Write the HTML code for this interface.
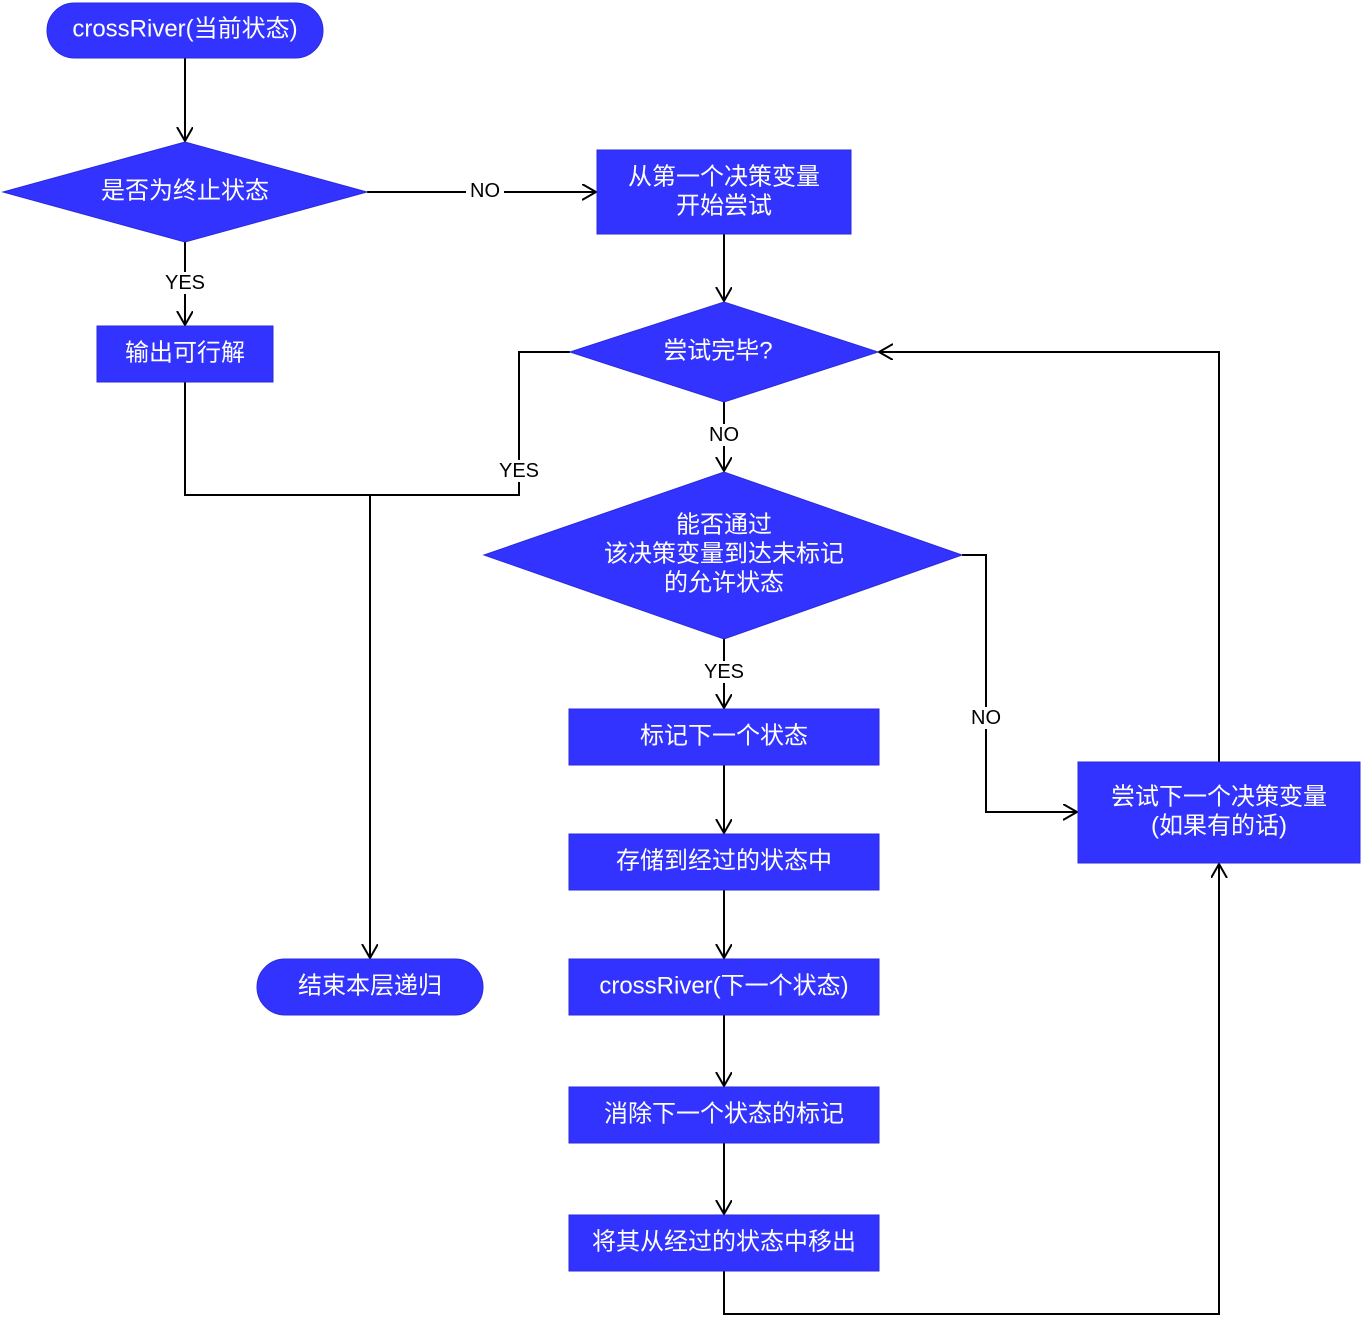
<!DOCTYPE html>
<html><head><meta charset="utf-8"><style>
html,body{margin:0;padding:0;background:#fff;}
svg{display:block;}
text{font-family:"Liberation Sans","Noto Sans CJK SC",sans-serif;}
.t{fill:#fff;font-size:24px;text-anchor:middle;dominant-baseline:central;}
.l{fill:#000;font-size:20px;text-anchor:middle;dominant-baseline:central;}
.s{fill:#3333ff;stroke:#2a2ad8;stroke-width:1;}
.c{fill:none;stroke:#000;stroke-width:2;}
</style></head><body>
<svg width="1362" height="1317" viewBox="0 0 1362 1317">
<defs>
<marker id="a" markerWidth="20" markerHeight="20" refX="14" refY="8" orient="auto" markerUnits="userSpaceOnUse">
<path d="M0,0 L14,8 L0,16" fill="none" stroke="#000" stroke-width="2"/>
</marker>
</defs>
<path class="c" d="M185,58 V141" marker-end="url(#a)"/>
<path class="c" d="M367,192 H596" marker-end="url(#a)"/>
<path class="c" d="M724,234 V301" marker-end="url(#a)"/>
<path class="c" d="M185,242 V325" marker-end="url(#a)"/>
<path class="c" d="M185,382 V495 H519 V352 H570"/>
<path class="c" d="M370,495 V958" marker-end="url(#a)"/>
<path class="c" d="M724,402 V471" marker-end="url(#a)"/>
<path class="c" d="M724,639 V708" marker-end="url(#a)"/>
<path class="c" d="M724,765 V833" marker-end="url(#a)"/>
<path class="c" d="M724,890 V958" marker-end="url(#a)"/>
<path class="c" d="M724,1015 V1086" marker-end="url(#a)"/>
<path class="c" d="M724,1143 V1214" marker-end="url(#a)"/>
<path class="c" d="M962,555 H986 V812 H1077" marker-end="url(#a)"/>
<path class="c" d="M1219,762 V352 H879" marker-end="url(#a)"/>
<path class="c" d="M724,1271 V1314 H1219 V864" marker-end="url(#a)"/>
<rect x="466" y="180" width="38" height="22" fill="#fff"/><text class="l" x="485" y="191">NO</text>
<rect x="166" y="272" width="38" height="22" fill="#fff"/><text class="l" x="185" y="283">YES</text>
<rect x="500" y="460" width="38" height="22" fill="#fff"/><text class="l" x="519" y="471">YES</text>
<rect x="706" y="424" width="36" height="22" fill="#fff"/><text class="l" x="724" y="435">NO</text>
<rect x="705" y="661" width="38" height="22" fill="#fff"/><text class="l" x="724" y="672">YES</text>
<rect x="968" y="707" width="36" height="22" fill="#fff"/><text class="l" x="986" y="718">NO</text>
<rect class="s" x="47" y="3" width="276" height="55" rx="27.5"/>
<text class="t" x="185" y="29">crossRiver(当前状态)</text>
<polygon class="s" points="3,192 185,142 367,192 185,242"/>
<text class="t" x="185" y="191">是否为终止状态</text>
<rect class="s" x="597" y="150" width="254" height="84"/>
<text class="t" x="724" y="177">从第一个决策变量</text>
<text class="t" x="724" y="206">开始尝试</text>
<polygon class="s" points="570,352 724,302 878,352 724,402"/>
<text class="t" x="718" y="351">尝试完毕?</text>
<rect class="s" x="97" y="326" width="176" height="56"/>
<text class="t" x="185" y="353">输出可行解</text>
<rect class="s" x="257" y="959" width="226" height="56" rx="28"/>
<text class="t" x="370" y="986">结束本层递归</text>
<polygon class="s" points="484,555 724,472 962,555 724,639"/>
<text class="t" x="724" y="525">能否通过</text>
<text class="t" x="724" y="554">该决策变量到达未标记</text>
<text class="t" x="724" y="583">的允许状态</text>
<rect class="s" x="569" y="709" width="310" height="56"/>
<text class="t" x="724" y="736">标记下一个状态</text>
<rect class="s" x="569" y="834" width="310" height="56"/>
<text class="t" x="724" y="861">存储到经过的状态中</text>
<rect class="s" x="569" y="959" width="310" height="56"/>
<text class="t" x="724" y="986">crossRiver(下一个状态)</text>
<rect class="s" x="569" y="1087" width="310" height="56"/>
<text class="t" x="724" y="1114">消除下一个状态的标记</text>
<rect class="s" x="569" y="1215" width="310" height="56"/>
<text class="t" x="724" y="1242">将其从经过的状态中移出</text>
<rect class="s" x="1078" y="762" width="282" height="101"/>
<text class="t" x="1219" y="797">尝试下一个决策变量</text>
<text class="t" x="1219" y="826">(如果有的话)</text>
</svg>
</body></html>
